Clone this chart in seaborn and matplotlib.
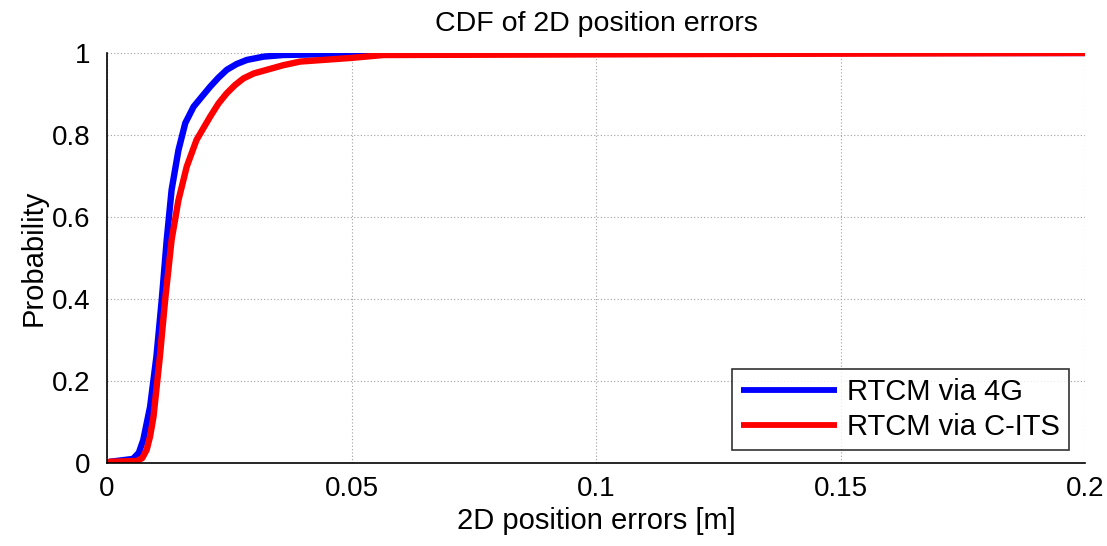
import numpy as np
import pandas as pd
import matplotlib
matplotlib.use("Agg")
import matplotlib.pyplot as plt
import seaborn as sns

# Data
err_4g = [0.0, 0.0006, 0.0053, 0.0065, 0.0074, 0.0088, 0.0101, 0.0112, 0.0122, 0.0132, 0.0146,
          0.0160, 0.0177, 0.0195, 0.0211, 0.0228, 0.0245, 0.0265, 0.0286, 0.0320, 0.0360,
          0.0500, 0.0660, 0.2000]
prob_4g = [0.0, 0.003, 0.010, 0.025, 0.056, 0.137, 0.260, 0.400, 0.544, 0.666, 0.763,
           0.829, 0.869, 0.895, 0.918, 0.940, 0.959, 0.973, 0.983, 0.991, 0.995,
           0.998, 1.000, 1.000]

err_cits = [0.0, 0.0006, 0.0061, 0.0072, 0.0081, 0.0088, 0.0095, 0.0108, 0.0119, 0.0132, 0.0146,
            0.0163, 0.0183, 0.0211, 0.0228, 0.0245, 0.0262, 0.0279, 0.0300, 0.0327, 0.0360,
            0.0395, 0.0500, 0.0565, 0.2000]
prob_cits = [0.0, 0.003, 0.005, 0.012, 0.032, 0.065, 0.113, 0.259, 0.400, 0.544, 0.641,
             0.723, 0.788, 0.845, 0.877, 0.902, 0.922, 0.938, 0.950, 0.959, 0.970,
             0.979, 0.988, 0.995, 1.000]

series_names = ["RTCM via 4G", "RTCM via C-ITS"]
x_ticks = [0, 0.05, 0.1, 0.15, 0.2]
x_tick_labels = ["0", "0.05", "0.1", "0.15", "0.2"]
y_ticks = [0, 0.2, 0.4, 0.6, 0.8, 1]
y_tick_labels = ["0", "0.2", "0.4", "0.6", "0.8", "1"]

df = pd.concat([
    pd.DataFrame({"err": err_4g, "prob": prob_4g, "series": series_names[0]}),
    pd.DataFrame({"err": err_cits, "prob": prob_cits, "series": series_names[1]}),
], ignore_index=True)

sns.set_style("white")
plt.rcParams['font.family'] = ['Liberation Sans', 'DejaVu Sans']
plt.rcParams['text.color'] = 'black'
plt.rcParams['axes.labelcolor'] = 'black'

fig = plt.figure(figsize=(11.07, 5.46), dpi=100)
ax = fig.add_axes([0.0967, 0.152, 0.8835, 0.751])

sns.lineplot(data=df, x="err", y="prob", hue="series", hue_order=series_names,
             palette={series_names[0]: "#0000ff", series_names[1]: "#ff0000"},
             linewidth=4.6, sort=False, estimator=None, ax=ax)
for ln in ax.get_lines():
    ln.set_solid_joinstyle("round")
    ln.set_solid_capstyle("round")

ax.set_xlim(0, 0.2)
ax.set_ylim(0, 1)
ax.set_xticks(x_ticks)
ax.set_xticklabels(x_tick_labels)
ax.set_yticks(y_ticks)
ax.set_yticklabels(y_tick_labels)
ax.tick_params(direction="in", length=7, width=1.2, labelsize=20, colors="black")
ax.tick_params(axis="x", pad=9)
ax.tick_params(axis="y", pad=12)
ax.grid(True, linestyle=(0, (1, 2)), color="#a0a0a0", linewidth=0.8)
for s in ["top", "right"]:
    ax.spines[s].set_visible(False)
for s in ["left", "bottom"]:
    ax.spines[s].set_color("black")
    ax.spines[s].set_linewidth(1.2)

ax.set_title("CDF of 2D position errors", fontsize=20.5, pad=16, color="black")
ax.set_xlabel("2D position errors [m]", fontsize=21, labelpad=4)
ax.set_ylabel("Probability", fontsize=21, labelpad=3)

leg = ax.legend(loc="lower right", fontsize=21, frameon=True, fancybox=False,
                edgecolor="black", handlelength=3.3, handletextpad=0.35,
                borderpad=0.3, labelspacing=0.25, borderaxespad=0,
                bbox_to_anchor=(0.9836, 0.0317))
leg.get_frame().set_linewidth(1.2)
for line in leg.get_lines():
    line.set_linewidth(4.2)
    line.set_solid_capstyle("butt")

fig.savefig("out.png", dpi=100, facecolor="white")
